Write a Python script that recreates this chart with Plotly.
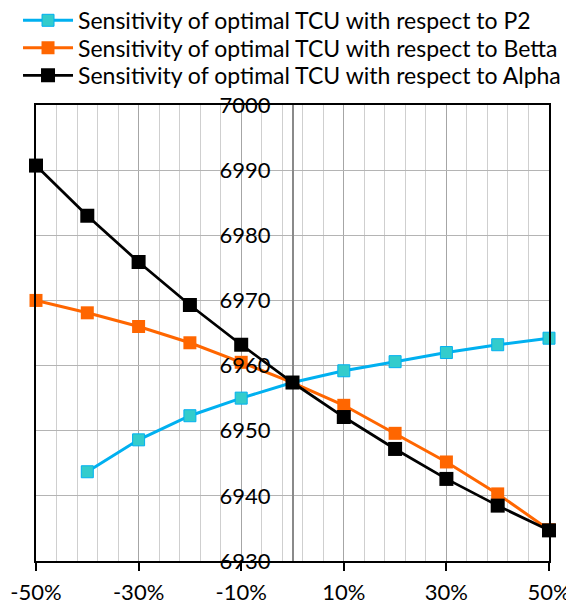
import plotly.graph_objects as go

# ---- data ----
x_changes = [-0.5, -0.4, -0.3, -0.2, -0.1, 0.0, 0.1, 0.2, 0.3, 0.4, 0.5]
tcu_p2 = [None, 6943.7, 6948.6, 6952.3, 6955.0, 6957.4, 6959.2, 6960.6, 6962.0, 6963.2, 6964.2]
tcu_betta = [6970.0, 6968.1, 6966.0, 6963.5, 6960.5, 6957.4, 6953.9, 6949.6, 6945.2, 6940.3, 6934.8]
tcu_alpha = [6990.7, 6983.0, 6975.9, 6969.3, 6963.2, 6957.4, 6952.1, 6947.2, 6942.6, 6938.5, 6934.7]

x_tickvals = [-0.5, -0.3, -0.1, 0.1, 0.3, 0.5]
x_ticktext = ["-50%", "-30%", "-10%", "10%", "30%", "50%"]
y_tickvals = [6930, 6940, 6950, 6960, 6970, 6980, 6990, 7000]

names = [
    "Sensitivity of optimal TCU with respect to P2",
    "Sensitivity of optimal TCU with respect to Betta",
    "Sensitivity of optimal TCU with respect to Alpha",
]

FONT = "Lato, sans-serif"
FS = 22
FS_LEG = 23

# page body has an 8px margin; lay out in window pixels and compensate
OFF = 8
W, H = 574 - OFF, 605 - OFF
plot_left, plot_right, plot_top, plot_bottom = 36, 549.5, 104.7, 561  # window px
L = plot_left - OFF
R = W - (plot_right - OFF)
T = plot_top - OFF
B = H - (plot_bottom - OFF)
pw = plot_right - plot_left
ph = plot_bottom - plot_top


def ly(py):
    return (plot_bottom - py) / ph


def lx(px):
    return (px - plot_left) / pw


fig = go.Figure()
fig.add_trace(go.Scatter(
    x=x_changes, y=tcu_p2, name=names[0], mode="lines+markers",
    line=dict(color="#00B0F0", width=3),
    marker=dict(symbol="square", size=12, color="#33CCCC", line=dict(color="#00B0F0", width=1)),
    cliponaxis=False, legend="legend", yaxis="y",
))
fig.add_trace(go.Scatter(
    x=x_changes, y=tcu_betta, name=names[1], mode="lines+markers",
    line=dict(color="#FF6600", width=3),
    marker=dict(symbol="square", size=13, color="#FF6600"),
    cliponaxis=False, legend="legend2", yaxis="y",
))
fig.add_trace(go.Scatter(
    x=x_changes, y=tcu_alpha, name=names[2], mode="lines+markers",
    line=dict(color="#000000", width=2.75),
    marker=dict(symbol="square", size=14, color="#000000"),
    cliponaxis=False, legend="legend3", yaxis="y2",
))

leg_common = dict(
    xanchor="left", yanchor="middle", bgcolor="rgba(0,0,0,0)",
    borderwidth=0, itemwidth=50, font=dict(family=FONT, size=FS_LEG, color="black"),
)

fig.update_layout(
    width=W, height=H,
    margin=dict(l=L, r=R, t=T, b=B, autoexpand=False),
    paper_bgcolor="white", plot_bgcolor="white",
    font=dict(family=FONT, size=FS, color="black"),
    showlegend=True,
    legend=dict(x=lx(18), y=ly(20), **leg_common),
    legend2=dict(x=lx(18), y=ly(47.5), **leg_common),
    legend3=dict(x=lx(18), y=ly(75), **leg_common),
    xaxis=dict(
        range=[-0.5, 0.5], tickmode="array", tickvals=x_tickvals, ticktext=x_ticktext,
        ticks="outside", ticklen=8, tickwidth=1.5, tickcolor="black",
        showline=True, linecolor="black", linewidth=1.5, mirror=True,
        showgrid=True, gridcolor="#a6a6a6", gridwidth=1,
        zeroline=True, zerolinecolor="#8a8a8a", zerolinewidth=2,
        minor=dict(tick0=-0.5, dtick=0.04, showgrid=True, gridcolor="#cfcfcf", gridwidth=1, ticks=""),
        ticklabelstandoff=3,
        tickfont=dict(family=FONT, size=FS, color="black"),
    ),
    yaxis=dict(
        range=[6930, 7000], tickvals=y_tickvals, showticklabels=False,
        showline=True, linecolor="black", linewidth=1.5, mirror=True,
        showgrid=True, gridcolor="#b4b4b4", gridwidth=1, zeroline=False, ticks="",
    ),
    yaxis2=dict(
        overlaying="y", anchor="free", position=0.5, side="left",
        range=[6930, 7000], tickvals=y_tickvals, showgrid=False, zeroline=False,
        showline=False, ticks="", ticklabelstandoff=22,
        tickfont=dict(family=FONT, size=FS, color="black"),
    ),
)

fig.write_html("out.html")
